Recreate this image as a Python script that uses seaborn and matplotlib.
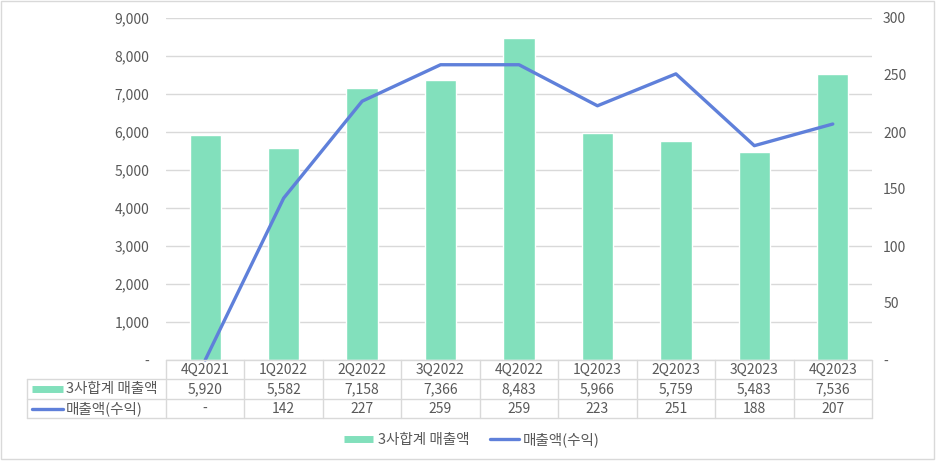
import numpy as np
import pandas as pd
import matplotlib.pyplot as plt
import matplotlib.transforms as mtransforms
import seaborn as sns
from matplotlib.lines import Line2D
from matplotlib.patches import Rectangle
from matplotlib.ticker import FuncFormatter, MultipleLocator

# === DATA ===
quarters = ["4Q2021", "1Q2022", "2Q2022", "3Q2022", "4Q2022",
            "1Q2023", "2Q2023", "3Q2023", "4Q2023"]
sales_total = [5920, 5582, 7158, 7366, 8483, 5966, 5759, 5483, 7536]
revenue = [0, 142, 227, 259, 259, 223, 251, 188, 207]
bar_name = "3사합계 매출액"
line_name = "매출액(수익)"

# === STYLE ===
BAR_COLOR = "#82E0BC"
LINE_COLOR = "#5F80DA"
GRID = "#D9D9D9"
TEXT = "#595959"
FS = 10

sns.set_theme(style="white")
plt.rcParams['font.family'] = ['Noto Sans CJK KR', 'DejaVu Sans']

W, H = 936, 461
fig = plt.figure(figsize=(W / 100, H / 100), dpi=100)


def fy(y):
    # pixel row -> figure fraction
    return 1 - y / H


def fx(x):
    return x / W


ax = fig.add_axes([fx(166), fy(360), fx(872) - fx(166), fy(18) - fy(360)])
df = pd.DataFrame({"quarter": quarters, "sales": sales_total, "revenue": revenue})
sns.barplot(data=df, x="quarter", y="sales", color=BAR_COLOR, saturation=1,
            width=0.4, ax=ax, zorder=2)
ax.set_xlim(-0.5, len(quarters) - 0.5)
ax.set_ylim(0, 9000)
ax.yaxis.set_major_locator(MultipleLocator(1000))
ax.yaxis.set_major_formatter(FuncFormatter(lambda v, p: "-" if v == 0 else f"{v:,.0f}"))
ax.yaxis.grid(True, color=GRID, lw=1)
ax.set_axisbelow(True)
ax.set_xticks([])
ax.set_xlabel("")
ax.set_ylabel("")
ax.tick_params(axis="y", length=0, pad=12, labelsize=FS, labelcolor=TEXT)
for s in ax.spines.values():
    s.set_visible(False)

ax2 = ax.twinx()
sns.lineplot(x=np.arange(len(quarters)), y=revenue, ax=ax2, color=LINE_COLOR,
             linewidth=2.4, zorder=3, clip_on=False)
ax2.set_ylim(0, 300)
ax2.yaxis.set_major_locator(MultipleLocator(50))
ax2.yaxis.set_major_formatter(FuncFormatter(lambda v, p: "-" if v == 0 else f"{v:.0f}"))
ax2.tick_params(axis="y", length=0, pad=8, labelsize=FS, labelcolor=TEXT)
ax2.set_ylabel("")
for s in ax2.spines.values():
    s.set_visible(False)

# === DATA TABLE ===
blend = mtransforms.blended_transform_factory(ax.transData, fig.transFigure)
rows_y = [360, 379, 399, 418]
n = len(quarters)
for i in range(n + 1):
    fig.add_artist(Line2D([i - 0.5, i - 0.5], [fy(rows_y[0]), fy(rows_y[-1])],
                          transform=blend, color=GRID, lw=1))
fig.add_artist(Line2D([fx(27), fx(27)], [fy(rows_y[1]), fy(rows_y[-1])],
                      transform=fig.transFigure, color=GRID, lw=1))
fig.add_artist(Line2D([fx(166), fx(872)], [fy(rows_y[0])] * 2,
                      transform=fig.transFigure, color=GRID, lw=1))
for y in rows_y[1:]:
    fig.add_artist(Line2D([fx(27), fx(872)], [fy(y)] * 2,
                          transform=fig.transFigure, color=GRID, lw=1))

mid = [(rows_y[k] + rows_y[k + 1]) / 2 for k in range(3)]
for i, q in enumerate(quarters):
    fig.text(i, fy(mid[0]), q, transform=blend, ha="center", va="center",
             fontsize=FS, color=TEXT)
    fig.text(i, fy(mid[1]), f"{sales_total[i]:,}", transform=blend, ha="center",
             va="center", fontsize=FS, color=TEXT)
    lab = "-" if revenue[i] == 0 else str(revenue[i])
    fig.text(i, fy(mid[2]), lab, transform=blend, ha="center", va="center",
             fontsize=FS, color=TEXT)

# row header keys
fig.add_artist(Line2D([fx(32), fx(63)], [fy(mid[1])] * 2, transform=fig.transFigure,
                      color=BAR_COLOR, lw=5, solid_capstyle="butt"))
fig.add_artist(Line2D([fx(32), fx(63)], [fy(mid[2])] * 2, transform=fig.transFigure,
                      color=LINE_COLOR, lw=2.4, solid_capstyle="round"))
fig.text(fx(66), fy(mid[1]), bar_name, ha="left", va="center", fontsize=10.5, color=TEXT)
fig.text(fx(66), fy(mid[2]), line_name, ha="left", va="center", fontsize=10.5, color=TEXT)

# === LEGEND ===
handles = [Line2D([], [], color=BAR_COLOR, lw=5, solid_capstyle="butt"),
           Line2D([], [], color=LINE_COLOR, lw=2.4)]
fig.legend(handles, [bar_name, line_name], loc="center", ncol=2, frameon=False,
           bbox_to_anchor=(fx(472), fy(440)), fontsize=10.5, labelcolor=TEXT,
           handlelength=2.0, handletextpad=0.3, columnspacing=1.4)

# outer border
fig.add_artist(Rectangle((fx(1), fy(459)), fx(933), fy(1) - fy(459),
                         transform=fig.transFigure, fill=False, ec=GRID, lw=1))

fig.savefig("out.png", dpi=100)
